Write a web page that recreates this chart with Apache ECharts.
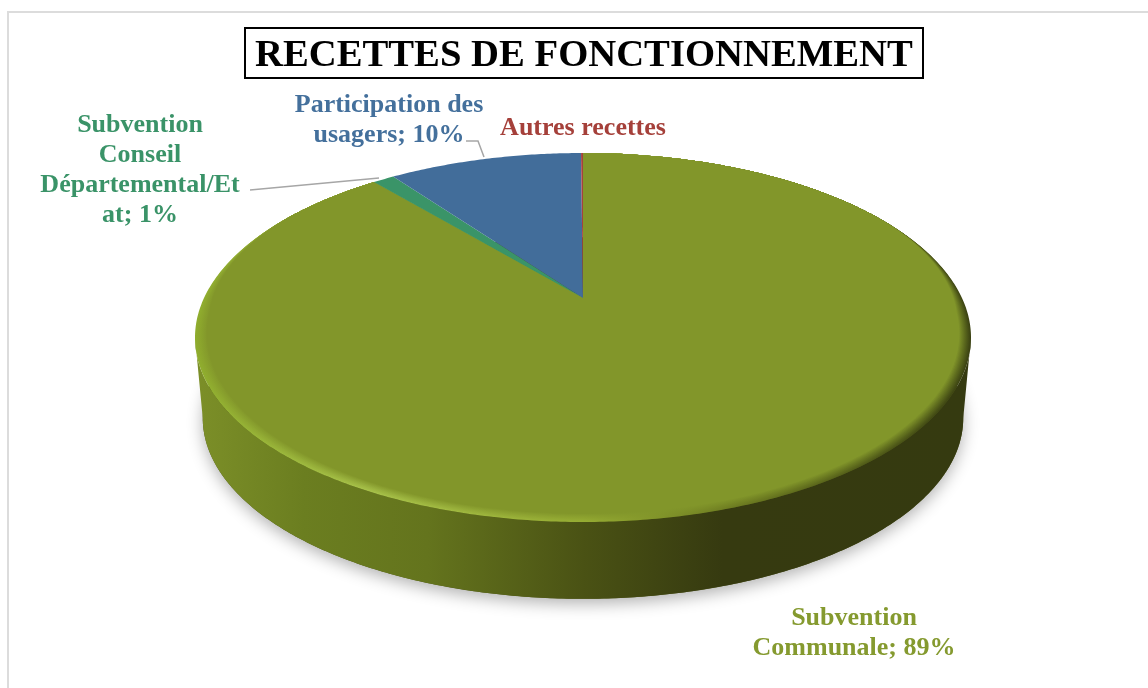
<!DOCTYPE html>
<html>
<head>
<meta charset="utf-8">
<style>
  html, body { margin: 0; padding: 0; background: #fff; }
  #main { width: 1148px; height: 688px; }
</style>
<script src="https://cdn.jsdelivr.net/npm/echarts@6/dist/echarts.min.js"></script>
</head>
<body>
<div id="main"></div>
<script>
var titleText = 'RECETTES DE FONCTIONNEMENT';
// clockwise from 12 o'clock
var categories = ['Subvention Communale', 'Subvention Conseil Départemental/Etat', 'Participation des usagers', 'Autres recettes'];
var values = [88.9, 1.1, 9.9, 0.1];
var sliceColors = ['#82962a', '#3a9468', '#426d9a', '#a5423c'];
var labelColors = ['#859a2f', '#3a9368', '#44709c', '#a5403a'];
var labelTexts = ['Subvention\nCommunale; 89%', 'Subvention\nConseil\nDépartemental/Et\nat; 1%', 'Participation des\nusagers; 10%', 'Autres recettes'];
var labelPos = [[854, 633], [140, 170], [389, 120], [583, 128]];

var total = values.reduce(function (a, b) { return a + b; }, 0);

// the disc seen in perspective: apex of the slices is not the middle of the ellipse
var cx = 583, apexY = 298, farY = 153, nearY = 522, maxRx = 388, depth = 80.5, shrink = 0.98;
var k = (nearY - apexY - (apexY - farY)) / (nearY - apexY + (apexY - farY));
var b = (apexY - farY) * (1 + k);
var a = maxRx * Math.sqrt(1 - k * k);
var midY = (farY + nearY) / 2;

// h: 0 top face, 1 base of the wall. bevel: 0 rim, 1 inner edge of the bevel
function rim(theta, h, bevel) {
  var w = 1 + k * Math.cos(theta);
  var x = a * Math.sin(theta) / w;
  var y = apexY - b * Math.cos(theta) / w;
  var s = 1 - (1 - shrink) * h;
  // the bevel fades out on the far half of the disc
  var fade = Math.max(0, Math.min(1, (0.5 - Math.cos(theta)) / 0.6));
  var sx = 1 - 0.03 * (bevel || 0) * fade;
  var sy = 1 - 0.022 * (bevel || 0) * fade;
  return [cx + x * s * sx, farY + (y - farY) * sy + (y - midY) * (s - 1) + depth * h];
}

function arc(from, to, h, bevel) {
  var pts = [];
  var n = Math.max(2, Math.ceil(Math.abs(to - from) / 0.01));
  for (var i = 0; i <= n; i++) {
    pts.push(rim(from + (to - from) * i / n, h, bevel));
  }
  return pts;
}

function hGradient(stops) {
  return new echarts.graphic.LinearGradient(195, 0, 971, 0, stops, true);
}

function wallItem() {
  var start = Math.acos(-k), end = 2 * Math.PI - start;
  var top = arc(start, end, 0);
  var base = arc(end, start, 1);
  return {
    type: 'group',
    children: [
      {
        type: 'polygon',
        shape: { points: arc(0, 2 * Math.PI, 1) },
        style: { fill: '#4c5315', shadowBlur: 16, shadowColor: 'rgba(0,0,0,0.3)', shadowOffsetY: 5 }
      },
      {
        type: 'polygon',
        shape: { points: top.concat(base) },
        style: {
          fill: hGradient([
            { offset: 0, color: '#7c8f28' },
            { offset: 0.14, color: '#6b7e20' },
            { offset: 0.3, color: '#64741d' },
            { offset: 0.5, color: '#4a5214' },
            { offset: 0.68, color: '#363a10' },
            { offset: 1, color: '#353a10' }
          ])
        }
      }
    ]
  };
}

function mix(c1, c2, t) {
  var out = '#';
  for (var i = 1; i < 7; i += 2) {
    var v1 = parseInt(c1.substr(i, 2), 16), v2 = parseInt(c2.substr(i, 2), 16);
    var v = Math.round(v1 + (v2 - v1) * t).toString(16);
    out += v.length < 2 ? '0' + v : v;
  }
  return out;
}

var bevelStops = [[0, '#8fad2d'], [0.22, '#a8c24a'], [0.5, '#96ad33'], [0.7, '#6b7a20'], [1, '#3b4212']];

function sliceItem(params, api) {
  var i = params.dataIndex;
  var before = 0;
  for (var j = 0; j < i; j++) before += values[j];
  var from = before / total * 2 * Math.PI;
  var to = (before + api.value(0)) / total * 2 * Math.PI;
  var children = [];
  if (i === 0) {
    // soft lit edge on the big slice, stepping in to the flat face colour
    var steps = 12;
    for (var s = 0; s < steps; s++) {
      var t = s / (steps - 1);
      children.push({
        type: 'polygon',
        shape: { points: [[cx, apexY]].concat(arc(from, to, 0, t)) },
        style: {
          fill: hGradient(bevelStops.map(function (d) {
            return { offset: d[0], color: mix(d[1], sliceColors[0], Math.pow(t, 1.1)) };
          }))
        }
      });
    }
  } else {
    children.push({
      type: 'polygon',
      shape: { points: [[cx, apexY]].concat(arc(from, to, 0)) },
      style: { fill: sliceColors[i] }
    });
  }
  return { type: 'group', children: children };
}

function labelItem(params) {
  var i = params.dataIndex;
  return {
    type: 'text',
    x: labelPos[i][0],
    y: labelPos[i][1],
    style: {
      text: labelTexts[i],
      fill: labelColors[i],
      font: 'bold 26px "Liberation Serif"',
      lineHeight: 30,
      align: 'center',
      verticalAlign: 'middle'
    }
  };
}

var chart = echarts.init(document.getElementById('main'), null, { renderer: 'canvas' });
chart.setOption({
  animation: false,
  backgroundColor: '#fff',
  title: {
    text: titleText,
    left: 245,
    top: 29,
    padding: [9, 10, 2, 10],
    borderColor: '#000',
    borderWidth: 2,
    textStyle: { fontFamily: 'Liberation Serif', fontWeight: 'bold', fontSize: 38.7, color: '#000', lineHeight: 37 }
  },
  graphic: [
    {
      type: 'polyline',
      shape: { points: [[8, 688], [8, 12], [1148, 12]] },
      style: { stroke: '#dcdcdc', lineWidth: 2, fill: null },
      silent: true
    },
    {
      type: 'polyline',
      z: 10,
      shape: { points: [[250, 190], [379, 178]] },
      style: { stroke: '#a6a6a6', lineWidth: 1.5, fill: null },
      silent: true
    },
    {
      type: 'polyline',
      z: 10,
      shape: { points: [[466, 141], [478, 141], [484, 157]] },
      style: { stroke: '#a6a6a6', lineWidth: 1.5, fill: null },
      silent: true
    }
  ],
  series: [
    { type: 'custom', coordinateSystem: 'none', z: 1, silent: true, data: [total], renderItem: wallItem },
    { type: 'custom', coordinateSystem: 'none', z: 2, silent: true, data: values, renderItem: sliceItem },
    { type: 'custom', coordinateSystem: 'none', z: 3, silent: true, data: categories, renderItem: labelItem }
  ]
});
</script>
</body>
</html>
